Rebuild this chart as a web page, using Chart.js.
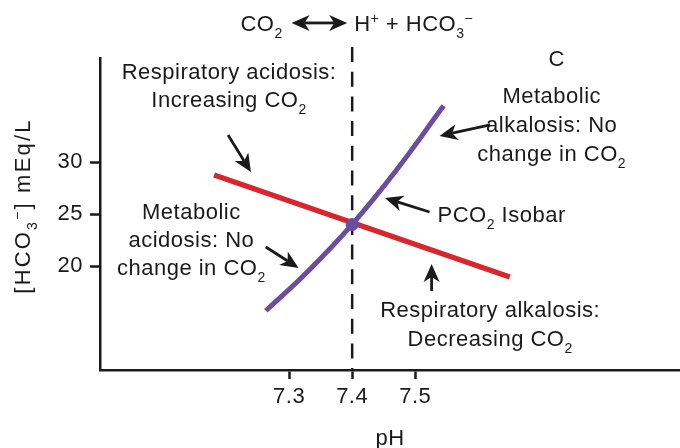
<!DOCTYPE html>
<html>
<head>
<meta charset="utf-8">
<script src="https://cdn.jsdelivr.net/npm/chart.js@4/dist/chart.umd.min.js"></script>
<style>
  html, body { margin: 0; padding: 0; background: #fff; }
  #wrap { width: 680px; height: 448px; }
</style>
</head>
<body>
<div id="wrap"><canvas id="acidBase" width="680" height="448"></canvas></div>
<script>
const FONT = "'Liberation Sans', Arial, Helvetica, sans-serif";
const SIZE = 22;
const INK = '#1a1a1a';
const RED = '#d8262c';
const PURPLE = '#6a4d9f';

// axes: pH across, bicarbonate up
const xRange = [7.0, 7.92];
const yRange = [10, 40];
const xTicks = [7.3, 7.4, 7.5];
const yTicks = [20, 25, 30];

// buffer line (red)
const bufferPH = [7.181, 7.650];
const bufferHCO3 = [28.75, 18.94];

// PCO2 isobar (purple)
const isobarPH = [7.263, 7.33, 7.4, 7.47, 7.545];
const isobarHCO3 = [15.7, 19.5, 24.0, 29.2, 35.4];

// normal state
const normalPoint = [7.4, 24];
const normalLineHCO3 = [41.06, 10];

// text labels: pH, HCO3, text, align  ("_x" subscript, "^x" superscript)
const labels = [
  [7.2047, 37.98, 'Respiratory acidosis:', 'center'],
  [7.2047, 35.29, 'Increasing CO_2', 'center'],
  [7.7244, 39.23, 'C', 'center'],
  [7.7165, 35.67, 'Metabolic', 'center'],
  [7.7165, 32.88, 'alkalosis: No', 'center'],
  [7.7165, 30.10, 'change in CO_2', 'center'],
  [7.1449, 24.52, 'Metabolic', 'center'],
  [7.1449, 21.83, 'acidosis: No', 'center'],
  [7.1449, 19.13, 'change in CO_2', 'center'],
  [7.5354, 24.23, 'PCO_2 Isobar', 'left'],
  [7.6189, 15.10, 'Respiratory alkalosis:', 'center'],
  [7.6189, 12.31, 'Decreasing CO_2', 'center'],
  [7.2898, 42.60, 'CO_2', 'right'],
  [7.4031, 42.60, 'H^+ + HCO_3^\u2212', 'left']
];

// pointer arrows: from pH, HCO3 -> to pH, HCO3
const arrows = [
  [7.2031, 32.60, 7.2394, 29.04],
  [7.6189, 33.56, 7.5386, 32.50],
  [7.5228, 25.19, 7.4520, 26.54],
  [7.2630, 21.83, 7.3150, 19.81],
  [7.5260, 17.60, 7.5260, 20.19]
];
// double arrow of the equilibrium
const equilibrium = [7.3039, 7.3921, 43.37];

function parseRuns(str) {
  const out = [];
  let buf = '';
  for (let i = 0; i < str.length; i++) {
    const c = str[i];
    if ((c === '_' || c === '^') && i + 1 < str.length) {
      if (buf) { out.push([buf, 0]); buf = ''; }
      out.push([str[i + 1], c === '_' ? -1 : 1]);
      i++;
    } else {
      buf += c;
    }
  }
  if (buf) out.push([buf, 0]);
  return out;
}

function richText(ctx, str, x, y, align, size) {
  const parts = parseRuns(str);
  const small = Math.round(size * 0.62);
  let total = 0;
  const widths = parts.map(([t, k]) => {
    ctx.font = (k ? small : size) + 'px ' + FONT;
    const w = ctx.measureText(t).width;
    total += w;
    return w;
  });
  let cx = align === 'center' ? x - total / 2 : align === 'right' ? x - total : x;
  ctx.textAlign = 'left';
  ctx.textBaseline = 'alphabetic';
  parts.forEach(([t, k], i) => {
    ctx.font = (k ? small : size) + 'px ' + FONT;
    const dy = k < 0 ? size * 0.3 : k > 0 ? -size * 0.36 : 0;
    ctx.fillText(t, cx, y + dy);
    cx += widths[i];
  });
}

function arrowHead(ctx, x2, y2, a, L, W) {
  const nx = x2 - Math.cos(a) * L * 0.72, ny = y2 - Math.sin(a) * L * 0.72;
  ctx.beginPath();
  ctx.moveTo(x2, y2);
  ctx.lineTo(x2 - Math.cos(a) * L + Math.sin(a) * W, y2 - Math.sin(a) * L - Math.cos(a) * W);
  ctx.lineTo(nx, ny);
  ctx.lineTo(x2 - Math.cos(a) * L - Math.sin(a) * W, y2 - Math.sin(a) * L + Math.cos(a) * W);
  ctx.closePath();
  ctx.fill();
  return [nx, ny];
}

function arrow(ctx, x1, y1, x2, y2) {
  const a = Math.atan2(y2 - y1, x2 - x1);
  const [nx, ny] = arrowHead(ctx, x2, y2, a, 18, 8);
  ctx.beginPath();
  ctx.moveTo(x1, y1);
  ctx.lineTo(nx, ny);
  ctx.stroke();
}

const letterSpacing = {
  id: 'letterSpacing',
  beforeDraw(chart) { chart.ctx.letterSpacing = '0.5px'; }
};

const notes = {
  id: 'notes',
  afterDatasetsDraw(chart) {
    const { ctx, scales: { x, y } } = chart;
    ctx.save();
    ctx.letterSpacing = '0.5px';
    ctx.fillStyle = INK;
    ctx.strokeStyle = INK;
    ctx.lineWidth = 2.8;
    labels.forEach(([px, py, t, al]) => richText(ctx, t, x.getPixelForValue(px), y.getPixelForValue(py), al, SIZE));
    arrows.forEach(([a, b, c, d]) => arrow(ctx, x.getPixelForValue(a), y.getPixelForValue(b), x.getPixelForValue(c), y.getPixelForValue(d)));

    // equilibrium double arrow
    const ex1 = x.getPixelForValue(equilibrium[0]);
    const ex2 = x.getPixelForValue(equilibrium[1]);
    const ey = y.getPixelForValue(equilibrium[2]);
    const [l] = arrowHead(ctx, ex1, ey, Math.PI, 18, 8);
    const [r] = arrowHead(ctx, ex2, ey, 0, 18, 8);
    ctx.beginPath();
    ctx.moveTo(l, ey);
    ctx.lineTo(r, ey);
    ctx.stroke();

    // vertical axis title
    ctx.letterSpacing = '2.2px';
    ctx.translate(22, (y.top + y.bottom) / 2 - 8);
    ctx.rotate(-Math.PI / 2);
    richText(ctx, '[HCO_3^\u2212] mEq/L', 0, 8, 'center', SIZE);
    ctx.restore();
  }
};

const ctx = document.getElementById('acidBase').getContext('2d');

new Chart(ctx, {
  type: 'scatter',
  data: {
    datasets: [
      {
        data: [{ x: normalPoint[0], y: normalPoint[1] }],
        pointRadius: 6.5,
        backgroundColor: PURPLE,
        borderWidth: 0,
        order: 0
      },
      {
        data: isobarPH.map((v, i) => ({ x: v, y: isobarHCO3[i] })),
        showLine: true,
        borderColor: PURPLE,
        borderWidth: 5,
        pointRadius: 0,
        tension: 0.4,
        order: 1
      },
      {
        data: bufferPH.map((v, i) => ({ x: v, y: bufferHCO3[i] })),
        showLine: true,
        borderColor: RED,
        borderWidth: 5.5,
        pointRadius: 0,
        order: 2
      },
      {
        data: normalLineHCO3.map(v => ({ x: normalPoint[0], y: v })),
        showLine: true,
        borderColor: INK,
        borderWidth: 2.5,
        borderDash: [15, 9.7],
        pointRadius: 0,
        clip: false,
        order: 3
      }
    ]
  },
  options: {
    responsive: false,
    animation: false,
    devicePixelRatio: 1,
    events: [],
    layout: { autoPadding: false, padding: { top: 58, right: 0, left: 0, bottom: 0 } },
    plugins: { legend: { display: false }, tooltip: { enabled: false } },
    scales: {
      x: {
        type: 'linear',
        min: xRange[0],
        max: xRange[1],
        afterBuildTicks: s => { s.ticks = xTicks.map(v => ({ value: v })); },
        afterFit: s => { s.height = 78; },
        grid: { drawOnChartArea: false, tickLength: 9, tickColor: INK, tickWidth: 2.5, color: INK },
        border: { color: INK, width: 2.5 },
        ticks: {
          color: INK,
          font: { family: FONT, size: SIZE },
          padding: 5,
          autoSkip: false,
          maxRotation: 0,
          callback: v => v.toFixed(1)
        },
        title: {
          display: true,
          text: 'pH',
          color: INK,
          font: { family: FONT, size: SIZE, lineHeight: 0.8 },
          padding: 0
        }
      },
      y: {
        type: 'linear',
        min: yRange[0],
        max: yRange[1],
        afterBuildTicks: s => { s.ticks = yTicks.map(v => ({ value: v })); },
        afterFit: s => { s.width = 100; },
        grid: { drawOnChartArea: false, tickLength: 10, tickColor: INK, tickWidth: 2.5, color: INK },
        border: { color: INK, width: 2.5 },
        ticks: {
          color: INK,
          font: { family: FONT, size: SIZE },
          padding: 7,
          autoSkip: false,
          callback: v => String(v)
        }
      }
    }
  },
  plugins: [letterSpacing, notes]
});
</script>
</body>
</html>
